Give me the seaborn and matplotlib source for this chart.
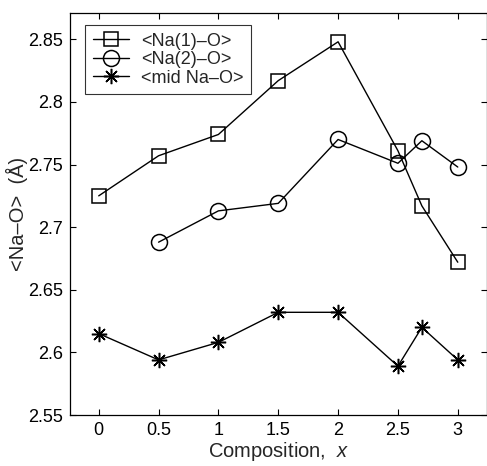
import matplotlib
matplotlib.use("Agg")
import matplotlib.pyplot as plt
import seaborn as sns
import pandas as pd

# Composition values and mean Na-O bond lengths (Å)
comp_na1 = [0, 0.5, 1, 1.5, 2, 2.5, 2.7, 3]
na1_o = [2.725, 2.757, 2.774, 2.817, 2.848, 2.761, 2.717, 2.672]

comp_na2 = [0.5, 1, 1.5, 2, 2.5, 2.7, 3]
na2_o = [2.688, 2.713, 2.719, 2.770, 2.751, 2.769, 2.748]

comp_mid = [0, 0.5, 1, 1.5, 2, 2.5, 2.7, 3]
mid_na_o = [2.615, 2.594, 2.608, 2.632, 2.632, 2.589, 2.620, 2.594]

series_labels = ["<Na(1)\u2013O>", "<Na(2)\u2013O>", "<mid Na\u2013O>"]
x_ticks = [0, 0.5, 1, 1.5, 2, 2.5, 3]
y_ticks = [2.55, 2.6, 2.65, 2.7, 2.75, 2.8, 2.85]

sns.set_style("ticks")
plt.rcParams["font.family"] = ["Liberation Sans", "DejaVu Sans"]
plt.rcParams["mathtext.fontset"] = "custom"
plt.rcParams["mathtext.it"] = "Liberation Sans:italic"

fig = plt.figure(figsize=(4.87, 4.66), dpi=100)
ax = fig.add_axes([70 / 487, 51 / 466, 416.5 / 487, 402 / 466])

df1 = pd.DataFrame({"x": comp_na1, "y": na1_o})
df2 = pd.DataFrame({"x": comp_na2, "y": na2_o})
df3 = pd.DataFrame({"x": comp_mid, "y": mid_na_o})

common = dict(color="black", linewidth=1.0, markeredgecolor="black",
              markeredgewidth=1.1, ax=ax, sort=False)
sns.lineplot(data=df1, x="x", y="y", marker="s", markersize=9.5,
             markerfacecolor="none", label=series_labels[0], **common)
sns.lineplot(data=df2, x="x", y="y", marker="o", markersize=11.5,
             markerfacecolor="none", label=series_labels[1], **common)
sns.lineplot(data=df3, x="x", y="y", marker=(8, 2, 0), markersize=11,
             markerfacecolor="black", label=series_labels[2], **common)

ax.set_xlim(-0.24, 3.24)
ax.set_ylim(2.55, 2.871)
ax.set_xticks(x_ticks)
ax.set_xticklabels([f"{t:g}" for t in x_ticks])
ax.set_yticks(y_ticks)
ax.set_yticklabels([f"{t:g}" for t in y_ticks])

ax.tick_params(direction="in", length=4, width=0.8, top=True, right=True,
               labelsize=13, pad=5, colors="black")
for s in ax.spines.values():
    s.set_visible(True)
    s.set_linewidth(0.9)
    s.set_color("black")

ax.set_xlabel("Composition,  $\\it{x}$", fontsize=14.5, labelpad=1)
ax.set_ylabel("<Na\u2013O>  (Å)", fontsize=14.5, labelpad=0)

leg = ax.legend(loc="upper left", bbox_to_anchor=(0.036, 0.970),
                borderaxespad=0, fontsize=13, frameon=True, fancybox=False,
                edgecolor="black", handlelength=2.0, handletextpad=0.7,
                labelspacing=0.08, borderpad=0.42)
leg.get_frame().set_linewidth(0.8)
for h in leg.legend_handles:
    h.set_color("black")

fig.savefig("out.png", dpi=100)
